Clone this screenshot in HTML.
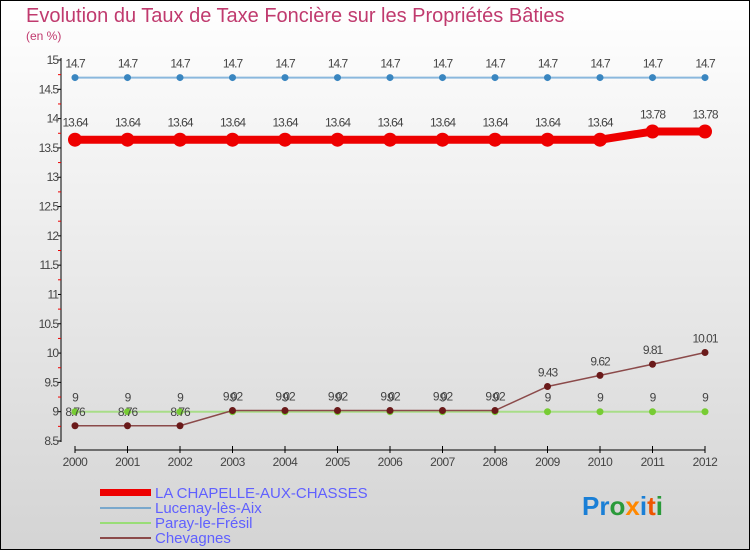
<!DOCTYPE html>
<html><head><meta charset="utf-8"><style>
body{margin:0}
svg{display:block;font-family:"Liberation Sans",sans-serif}
</style></head><body>
<svg id="c" width="750" height="550" xmlns="http://www.w3.org/2000/svg">
<defs><linearGradient id="bg" x1="0" y1="0" x2="0" y2="1"><stop offset="0" stop-color="#ffffff"/><stop offset="1" stop-color="#d4d4d4"/></linearGradient></defs>
<rect x="0.5" y="0.5" width="749" height="549" fill="url(#bg)" stroke="#000"/>
<text x="26" y="22" font-size="20" fill="#c03a6e">Evolution du Taux de Taxe Foncière sur les Propriétés Bâties</text>
<text x="26" y="40" font-size="12" fill="#c03a6e">(en %)</text>
<g id="axes"></g><g id="series"></g>
<g font-size="15" fill="#6060ff">
<rect x="100" y="489" width="51" height="7" fill="#ee0000"/>
<text x="155" y="498">LA CHAPELLE-AUX-CHASSES</text>
<rect x="100" y="507" width="51" height="2" fill="#7aa8cc"/>
<text x="155" y="513">Lucenay-lès-Aix</text>
<rect x="100" y="522" width="51" height="2" fill="#99dd77"/>
<text x="155" y="528">Paray-le-Frésil</text>
<rect x="100" y="537" width="51" height="2" fill="#8b4a4a"/>
<text x="155" y="543">Chevagnes</text>
</g>
<text x="582" y="515" font-size="26" font-weight="bold"><tspan fill="#1a7fd6">Pr</tspan><tspan fill="#2a9a3a">o</tspan><tspan fill="#ff8800">x</tspan><tspan fill="#1a7fd6">i</tspan><tspan fill="#ee5500">t</tspan><tspan fill="#2a9a3a">i</tspan></text>
</svg>
<script>
const years=[2000,2001,2002,2003,2004,2005,2006,2007,2008,2009,2010,2011,2012];
const chapelle=[13.64,13.64,13.64,13.64,13.64,13.64,13.64,13.64,13.64,13.64,13.64,13.78,13.78];
const lucenay=[14.7,14.7,14.7,14.7,14.7,14.7,14.7,14.7,14.7,14.7,14.7,14.7,14.7];
const paray=[9,9,9,9,9,9,9,9,9,9,9,9,9];
const chevagnes=[8.76,8.76,8.76,9.02,9.02,9.02,9.02,9.02,9.02,9.43,9.62,9.81,10.01];
const yTicks=[8.5,9,9.5,10,10.5,11,11.5,12,12.5,13,13.5,14,14.5,15];
const NS="http://www.w3.org/2000/svg";
const xs=i=>75+i*(705-75)/12;
const ys=v=>60+(15-v)*(441-60)/6.5;
function mk(t,a,p){const e=document.createElementNS(NS,t);for(const k in a)e.setAttribute(k,a[k]);p.appendChild(e);return e;}
const ax=document.getElementById('axes');
let l=mk('line',{x1:61,y1:58,x2:61,y2:442,stroke:'#000'},ax);


yTicks.forEach((v,i)=>{
 mk('line',{x1:58,y1:ys(v),x2:61,y2:ys(v),stroke:'#000'},ax);
 if(i<yTicks.length-1)mk('line',{x1:58,y1:ys(v+0.25),x2:61,y2:ys(v+0.25),stroke:'#e00'},ax);
 const t=mk('text',{x:58,y:ys(v)+4,'text-anchor':'end','font-size':12,fill:'#444','letter-spacing':'-1'},ax);
 t.textContent=String(v);
 
 
});
l=mk('line',{x1:75,y1:450,x2:705,y2:450,stroke:'#000'},ax);


years.forEach((y,i)=>{
 mk('line',{x1:xs(i),y1:446,x2:xs(i),y2:453,stroke:'#000'},ax);
 const t=mk('text',{x:xs(i),y:466,'text-anchor':'middle','font-size':12,fill:'#444','letter-spacing':'-0.5'},ax);
 t.textContent=y;
 
 
});
const sg=document.getElementById('series');
function series(vals,name,color,w,r,dot,lbl){
 const g=mk('g',{},sg);
 
 
 mk('polyline',{points:vals.map((v,i)=>xs(i)+','+ys(v)).join(' '),fill:'none',stroke:color,'stroke-width':w},g);
 vals.forEach((v,i)=>{
  const c=mk('circle',{cx:xs(i),cy:ys(v),r:r,fill:dot},g);
  
  
  const t=mk('text',{x:xs(i),y:ys(v)-lbl,'text-anchor':'middle','font-size':12,fill:'#444','letter-spacing':'-1'},g);
  t.textContent=String(v);
  
  
 });
}
series(lucenay,'lucenay-series','#8ab8dd',2,3.5,'#3a86c0',10);
series(paray,'paray-series','#a8dd88',2,3.5,'#77cc33',10);
series(chevagnes,'chevagnes-series','#8b4a4a',1.5,3.5,'#6a1a1a',10);
series(chapelle,'chapelle-series','#ee0000',8,7,'#ee0000',13);
</script>
</body></html>
